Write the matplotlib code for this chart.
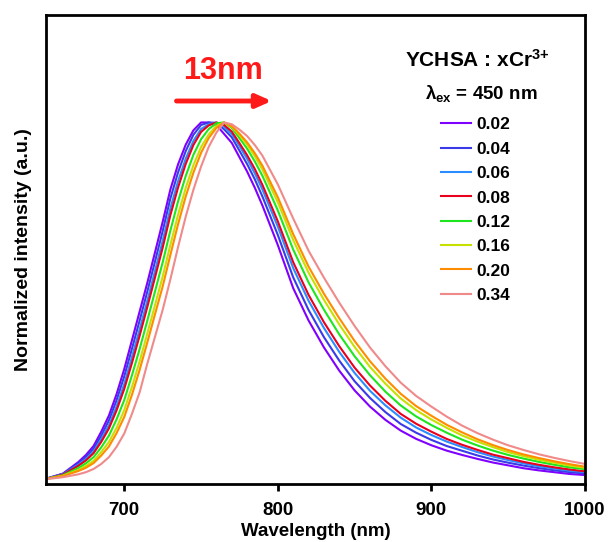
import numpy as np
import matplotlib
matplotlib.use("Agg")
import matplotlib.pyplot as plt

plt.rcParams['font.family'] = ['Liberation Sans', 'DejaVu Sans']
plt.rcParams['font.weight'] = 'bold'
plt.rcParams['mathtext.fontset'] = 'custom'
plt.rcParams['mathtext.rm'] = 'Liberation Sans:bold'
plt.rcParams['mathtext.it'] = 'Liberation Sans:bold'
plt.rcParams['mathtext.bf'] = 'Liberation Sans:bold'

# emission spectra, lambda_ex = 450 nm
wavelength = [650, 660, 670, 675, 680, 685, 690, 695, 700, 705,
              710, 715, 720, 725, 730, 735, 740, 745, 750, 755, 760, 765, 770, 775,
              780, 785, 790, 795, 800, 810, 820, 830, 840, 850, 860, 870, 880, 890,
              900, 910, 920, 930, 940, 950, 960, 970, 980, 990, 1000]

x002 = [0.005, 0.018, 0.050, 0.070, 0.095, 0.135, 0.180, 0.240, 0.310, 0.390,
        0.470, 0.550, 0.635, 0.720, 0.810, 0.880, 0.935, 0.975, 0.997, 0.997, 0.990, 0.965, 0.940, 0.900,
        0.860, 0.815, 0.765, 0.710, 0.655, 0.535, 0.445, 0.370, 0.305, 0.250, 0.205, 0.168, 0.138, 0.115,
        0.097, 0.082, 0.070, 0.059, 0.049, 0.041, 0.033, 0.027, 0.022, 0.017, 0.014]
x004 = [0.005, 0.017, 0.046, 0.064, 0.087, 0.123, 0.165, 0.221, 0.287, 0.363,
        0.441, 0.521, 0.604, 0.688, 0.778, 0.850, 0.909, 0.954, 0.981, 0.988, 0.987, 0.969, 0.947, 0.910,
        0.873, 0.831, 0.783, 0.730, 0.677, 0.560, 0.470, 0.395, 0.330, 0.273, 0.227, 0.188, 0.155, 0.131,
        0.111, 0.094, 0.081, 0.068, 0.057, 0.048, 0.040, 0.033, 0.027, 0.022, 0.018]
x006 = [0.005, 0.016, 0.042, 0.058, 0.079, 0.113, 0.151, 0.203, 0.265, 0.339,
        0.415, 0.494, 0.576, 0.659, 0.748, 0.823, 0.885, 0.934, 0.967, 0.980, 0.985, 0.973, 0.953, 0.920,
        0.885, 0.845, 0.800, 0.749, 0.698, 0.584, 0.494, 0.419, 0.353, 0.295, 0.246, 0.206, 0.172, 0.145,
        0.124, 0.106, 0.091, 0.077, 0.065, 0.055, 0.046, 0.038, 0.032, 0.026, 0.022]
x008 = [0.004, 0.015, 0.039, 0.054, 0.074, 0.105, 0.142, 0.192, 0.251, 0.322,
        0.397, 0.476, 0.557, 0.639, 0.728, 0.804, 0.869, 0.921, 0.957, 0.975, 0.983, 0.976, 0.958, 0.926,
        0.893, 0.855, 0.811, 0.761, 0.711, 0.599, 0.509, 0.434, 0.368, 0.309, 0.260, 0.218, 0.182, 0.155,
        0.133, 0.113, 0.097, 0.083, 0.070, 0.060, 0.050, 0.042, 0.035, 0.029, 0.024]
x012 = [0.004, 0.013, 0.033, 0.046, 0.063, 0.090, 0.122, 0.167, 0.220, 0.288,
        0.360, 0.438, 0.518, 0.598, 0.685, 0.765, 0.835, 0.893, 0.936, 0.964, 0.980, 0.982, 0.967, 0.939,
        0.910, 0.875, 0.835, 0.788, 0.740, 0.633, 0.543, 0.468, 0.400, 0.340, 0.288, 0.243, 0.205, 0.175,
        0.151, 0.130, 0.111, 0.095, 0.081, 0.069, 0.059, 0.050, 0.042, 0.035, 0.030]
x016 = [0.004, 0.012, 0.028, 0.039, 0.053, 0.077, 0.105, 0.144, 0.193, 0.257,
        0.327, 0.404, 0.482, 0.561, 0.648, 0.731, 0.805, 0.868, 0.918, 0.953, 0.977, 0.986, 0.974, 0.951,
        0.925, 0.893, 0.856, 0.811, 0.766, 0.662, 0.572, 0.497, 0.429, 0.367, 0.312, 0.266, 0.225, 0.193,
        0.167, 0.144, 0.123, 0.106, 0.091, 0.077, 0.066, 0.056, 0.048, 0.040, 0.034]
x020 = [0.004, 0.011, 0.025, 0.034, 0.047, 0.068, 0.093, 0.130, 0.175, 0.236,
        0.305, 0.381, 0.459, 0.536, 0.623, 0.708, 0.785, 0.851, 0.906, 0.947, 0.975, 0.990, 0.980, 0.959,
        0.935, 0.905, 0.870, 0.826, 0.783, 0.681, 0.591, 0.516, 0.448, 0.385, 0.329, 0.281, 0.239, 0.205,
        0.178, 0.153, 0.132, 0.113, 0.097, 0.083, 0.071, 0.061, 0.052, 0.044, 0.037]
x034 = [0.003, 0.008, 0.016, 0.022, 0.031, 0.045, 0.064, 0.093, 0.130, 0.185,
        0.245, 0.325, 0.400, 0.475, 0.560, 0.650, 0.735, 0.810, 0.875, 0.930, 0.970, 0.998, 0.993, 0.978,
        0.960, 0.935, 0.905, 0.865, 0.825, 0.730, 0.640, 0.565, 0.495, 0.430, 0.370, 0.318, 0.272, 0.235,
        0.205, 0.177, 0.152, 0.131, 0.113, 0.097, 0.084, 0.072, 0.062, 0.053, 0.045]

labels = ['0.02', '0.04', '0.06', '0.08', '0.12', '0.16', '0.20', '0.34']
series = [x002, x004, x006, x008, x012, x016, x020, x034]
colors = ['#8000ff', '#3a3ae8', '#2b8cff', '#e8001c', '#1ee61e', '#c8e000', '#ff8c00', '#f08a8a']

fig = plt.figure(figsize=(6.09, 5.42), dpi=100)
ax = fig.add_axes([0.0755, 0.107, 0.885, 0.865])

for y, c, lab in zip(series, colors, labels):
    y = np.array(y)
    ax.plot(wavelength, y / y.max(), color=c, lw=1.5, label=lab)

ax.set_xlim(649, 1000)
ax.set_ylim(-0.011, 1.30)
ax.set_xticks([700, 800, 900, 1000])
ax.set_yticks([])
ax.tick_params(axis='x', direction='out', length=5, width=2, labelsize=13.5, pad=8)
for lab in ax.get_xticklabels():
    lab.set_fontweight('bold')
for sp in ax.spines.values():
    sp.set_linewidth(2)

ax.set_xlabel('Wavelength (nm)', fontsize=13.5, fontweight='bold', labelpad=3)
ax.set_ylabel('Normalized intensity (a.u.)', fontsize=14, fontweight='bold', labelpad=10)

# peak shift arrow
ax.annotate('', xy=(796, 1.06), xytext=(734, 1.06),
            arrowprops=dict(arrowstyle='-|>,head_length=0.9,head_width=0.4',
                            color='#ff1a1a', lw=3.5, shrinkA=0, shrinkB=0))
ax.text(764, 1.145, '13nm', color='#ff1a1a', fontsize=22, fontweight='bold',
        ha='center', va='center')

ax.text(0.80, 0.905, r'YCHSA : xCr$^{3{+}}$', transform=ax.transAxes, fontsize=15,
        fontweight='bold', ha='center', va='center')
ax.text(0.807, 0.834, r'λ$_{\mathbf{ex}}$ = 450 nm', transform=ax.transAxes, fontsize=13.5,
        fontweight='bold', ha='center', va='center')

leg = ax.legend(loc='upper left', bbox_to_anchor=(0.72, 0.797), frameon=False,
                prop={'size': 12.5, 'weight': 'bold'}, handlelength=1.75,
                handletextpad=0.3, labelspacing=0.53, borderaxespad=0)

fig.savefig('out.png', dpi=100)
